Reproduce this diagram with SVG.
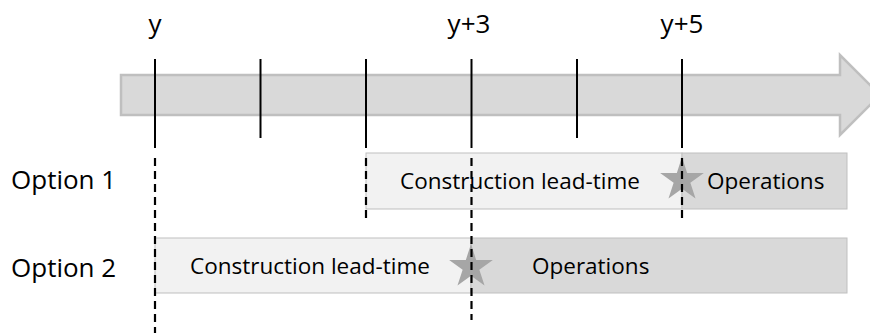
<svg xmlns="http://www.w3.org/2000/svg" xmlns:xlink="http://www.w3.org/1999/xlink" width="870" height="333" viewBox="0 0 870 333">
<style>
text{font-family:"Open Sans","Noto Sans","Liberation Sans",sans-serif;fill:#000}
.top{font-size:26px;text-anchor:middle}
.opt{font-size:26px}
.lbl{font-size:22.5px}
.light{fill:#f2f2f2;stroke:#bfbfbf;stroke-width:1}
.dark{fill:#d9d9d9;stroke:#bfbfbf;stroke-width:1}
.tick{stroke:#000;stroke-width:2;fill:none}
.dash{stroke:#000;stroke-width:2.2;fill:none;stroke-dasharray:8 5}
.star{fill:#a6a6a6}
</style>
<defs>
<polygon id="star" class="star" points="0,-23 5.16,-7.1 21.87,-7.1 8.35,2.72 13.52,18.61 0,8.78 -13.52,18.61 -8.35,2.72 -21.87,-7.1 -5.16,-7.1"/>
</defs>
<g id="timeline">
<path d="M121,75 H840 V55 L880,95 L840,135 V115 H121 Z" fill="#d9d9d9" stroke="#bfbfbf" stroke-width="2.5"/>
<text class="top" x="155" y="33">y</text>
<text class="top" x="469" y="33">y+3</text>
<text class="top" x="682" y="33">y+5</text>
</g>
<g id="option1-label"><text class="opt" x="11" y="189">Option 1</text></g>
<g id="option2-label"><text class="opt" x="11" y="277">Option 2</text></g>
<g id="option1-construction">
<rect class="light" x="366" y="153" width="316" height="56"/>
<text class="lbl" x="400" y="189">Construction lead-time</text>
</g>
<g id="option1-operations">
<rect class="dark" x="682" y="153" width="165" height="56"/>
<text class="lbl" x="707" y="189">Operations</text>
</g>
<g id="option2-construction">
<rect class="light" x="155" y="238" width="316" height="55"/>
<text class="lbl" x="190" y="274">Construction lead-time</text>
</g>
<g id="option2-operations">
<rect class="dark" x="471" y="238" width="376" height="55"/>
<text class="lbl" x="532" y="274">Operations</text>
</g>
<g id="milestone1"><use xlink:href="#star" href="#star" x="682" y="180"/></g>
<g id="milestone2"><use xlink:href="#star" href="#star" x="471" y="267"/></g>
<g id="connectors">
<line class="tick" x1="155" y1="59" x2="155" y2="148"/>
<line class="tick" x1="260.5" y1="59" x2="260.5" y2="138"/>
<line class="tick" x1="366" y1="59" x2="366" y2="148"/>
<line class="tick" x1="471.5" y1="59" x2="471.5" y2="148"/>
<line class="tick" x1="577" y1="59" x2="577" y2="138"/>
<line class="tick" x1="682" y1="59" x2="682" y2="148"/>
<line class="dash" x1="155" y1="158" x2="155" y2="333"/>
<line class="dash" x1="366" y1="158" x2="366" y2="218"/>
<line class="dash" x1="471.5" y1="158" x2="471.5" y2="320"/>
<line class="dash" x1="682" y1="158" x2="682" y2="218"/>
</g>
</svg>
